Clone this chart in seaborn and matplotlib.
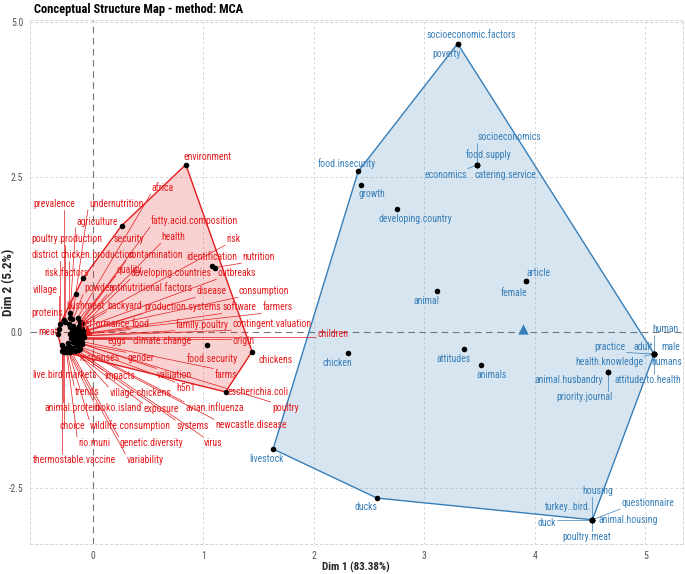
import numpy as np
import pandas as pd
import matplotlib
matplotlib.use("Agg")
import matplotlib.pyplot as plt
import seaborn as sns

# cluster 1 (red) - word, Dim 1, Dim 2
red_words = ["environment", "prevalence", "undernutrition", "africa", "agriculture",
             "fatty.acid.composition", "poultry.production", "security", "health", "risk",
             "district", "chicken.production", "contamination", "identification", "nutrition",
             "risk.factors", "quality", "developing.countries", "outbreaks", "village",
             "powder", "antinutritional.factors", "disease", "consumption", "bushmeat",
             "backyard", "production.systems", "software", "farmers", "proteins",
             "performance", "food", "family.poultry", "contingent.valuation", "meat",
             "children", "eggs", "climate.change", "origin", "food.security",
             "chickens", "responses", "gender", "valuation", "farms",
             "live.bird.markets", "impacts", "h5n1", "escherichia.coli", "trends",
             "village.chickens", "poultry", "animal.protein", "bioko.island", "exposure",
             "avian.influenza", "choice", "wildlife.consumption", "systems", "newcastle.disease",
             "rio.muni", "genetic.diversity", "virus", "thermostable.vaccine", "variability"]
red_dim1 = [0.84, -0.26, -0.19, -0.14, -0.21,
            -0.12, -0.25, 0.26, -0.13, -0.10,
            -0.30, -0.22, -0.15, 1.08, 1.10,
            -0.09, -0.18, -0.14, -0.10, -0.31,
            -0.21, -0.16, -0.12, -0.09, -0.15,
            -0.19, -0.14, -0.11, -0.09, -0.21,
            -0.21, -0.17, -0.13, -0.10, -0.32,
            -0.08, -0.20, -0.15, -0.11, 1.03,
            1.44, -0.23, -0.18, -0.14, -0.10,
            -0.28, -0.21, -0.15, 1.20, -0.24,
            -0.18, -0.10, -0.27, -0.23, -0.19,
            -0.13, -0.26, -0.22, -0.16, -0.12,
            -0.24, -0.20, -0.14, -0.28, -0.21]
red_dim2 = [2.70, 0.19, 0.21, 0.23, 0.23,
            0.16, 0.16, 1.72, 0.10, 0.15,
            0.13, 0.13, 0.06, 1.06, 1.04,
            0.87, 0.10, 0.03, 0.06, 0.06,
            0.08, 0.02, 0.00, 0.02, 0.61,
            0.02, -0.03, -0.03, -0.02, 0.31,
            -0.03, -0.05, -0.06, -0.06, -0.02,
            -0.08, -0.10, -0.10, -0.11, -0.21,
            -0.31, -0.18, -0.16, -0.16, -0.15,
            -0.21, -0.23, -0.21, -0.96, -0.26,
            -0.26, -0.19, -0.29, -0.29, -0.29,
            -0.24, -0.32, -0.31, -0.30, -0.27,
            -0.31, -0.30, -0.29, -0.30, -0.32]

# cluster 2 (blue)
blue_words = ["socioeconomic.factors", "poverty", "food.insecurity", "growth", "socioeconomics",
              "food.supply", "economics", "catering.service", "developing.country", "animal",
              "article", "female", "attitudes", "animals", "chicken",
              "human", "practice", "adult", "male", "health.knowledge",
              "humans", "attitude.to.health", "animal.husbandry", "priority.journal", "livestock",
              "ducks", "housing", "turkey..bird.", "questionnaire", "duck",
              "animal.housing", "poultry.meat"]
blue_dim1 = [3.30, 3.30, 2.40, 2.43, 3.48,
             3.48, 3.48, 3.48, 2.75, 3.11,
             3.92, 3.92, 3.36, 3.51, 2.31,
             5.08, 5.08, 5.08, 5.08, 5.08,
             5.08, 5.08, 4.66, 4.66, 1.63,
             2.57, 4.52, 4.52, 4.52, 4.52,
             4.52, 4.52]
blue_dim2 = [4.65, 4.65, 2.59, 2.38, 2.70,
             2.70, 2.70, 2.70, 1.98, 0.66,
             0.82, 0.82, -0.27, -0.53, -0.34,
             -0.35, -0.35, -0.35, -0.35, -0.35,
             -0.35, -0.35, -0.64, -0.64, -1.88,
             -2.67, -3.02, -3.02, -3.02, -3.02,
             -3.02, -3.02]

# where the repelled labels ended up
label_pos = {
    "environment": (1.04, 2.83), "prevalence": (-0.35, 2.07), "undernutrition": (0.21, 2.07),
    "africa": (0.63, 2.32), "agriculture": (0.04, 1.78), "fatty.acid.composition": (0.92, 1.80),
    "poultry.production": (-0.24, 1.51), "security": (0.32, 1.51), "health": (0.73, 1.53),
    "risk": (1.27, 1.50), "district": (-0.43, 1.24), "chicken.production": (0.04, 1.24),
    "contamination": (0.56, 1.25), "identification": (1.08, 1.22), "nutrition": (1.50, 1.21),
    "risk.factors": (-0.24, 0.95), "quality": (0.33, 1.00), "developing.countries": (0.71, 0.95),
    "outbreaks": (1.30, 0.95), "village": (-0.43, 0.68), "powder": (0.05, 0.71),
    "antinutritional.factors": (0.52, 0.71), "disease": (1.07, 0.66), "consumption": (1.55, 0.66),
    "bushmeat": (-0.07, 0.43), "backyard": (0.29, 0.43), "production.systems": (0.81, 0.40),
    "software": (1.33, 0.40), "farmers": (1.67, 0.40), "proteins": (-0.41, 0.31),
    "performance": (0.11, 0.14), "food": (0.43, 0.14), "family.poultry": (0.99, 0.13),
    "contingent.valuation": (1.62, 0.13), "meat": (-0.41, 0.00), "children": (2.17, -0.02),
    "eggs": (0.22, -0.14), "climate.change": (0.63, -0.14), "origin": (1.36, -0.14),
    "food.security": (1.08, -0.42), "chickens": (1.65, -0.45), "responses": (0.06, -0.42),
    "gender": (0.43, -0.42), "valuation": (0.74, -0.68), "farms": (1.20, -0.68),
    "live.bird.markets": (-0.26, -0.69), "impacts": (0.24, -0.71), "h5n1": (0.84, -0.90),
    "escherichia.coli": (1.49, -0.96), "trends": (-0.05, -0.96), "village.chickens": (0.43, -0.98),
    "poultry": (1.74, -1.22), "animal.protein": (-0.19, -1.22), "bioko.island": (0.23, -1.22),
    "exposure": (0.62, -1.24), "avian.influenza": (1.10, -1.22), "choice": (-0.19, -1.51),
    "wildlife.consumption": (0.34, -1.51), "systems": (0.90, -1.51), "newcastle.disease": (1.43, -1.50),
    "rio.muni": (0.01, -1.78), "genetic.diversity": (0.53, -1.78), "virus": (1.09, -1.78),
    "thermostable.vaccine": (-0.17, -2.06), "variability": (0.47, -2.06),
    "socioeconomic.factors": (3.42, 4.79), "poverty": (3.20, 4.49), "food.insecurity": (2.30, 2.72),
    "growth": (2.52, 2.23), "socioeconomics": (3.77, 3.14), "food.supply": (3.58, 2.86),
    "economics": (3.19, 2.54), "catering.service": (3.73, 2.54), "developing.country": (2.92, 1.83),
    "animal": (3.02, 0.51), "article": (4.03, 0.95), "female": (3.81, 0.63),
    "attitudes": (3.26, -0.43), "animals": (3.61, -0.69), "chicken": (2.21, -0.50),
    "human": (5.18, 0.06), "practice": (4.68, -0.23), "adult": (4.98, -0.23),
    "male": (5.23, -0.23), "health.knowledge": (4.67, -0.48), "humans": (5.19, -0.48),
    "attitude.to.health": (5.02, -0.77), "animal.husbandry": (4.31, -0.77),
    "priority.journal": (4.45, -1.05), "livestock": (1.57, -2.04), "ducks": (2.47, -2.81),
    "housing": (4.57, -2.56), "turkey..bird.": (4.30, -2.81), "questionnaire": (5.02, -2.75),
    "duck": (4.11, -3.07), "animal.housing": (4.84, -3.02), "poultry.meat": (4.47, -3.30),
}

RED = "#E41A1C"
BLUE = "#377EB8"
NARROW = ["Noto Sans Condensed", "Roboto Condensed", "Open Sans Condensed",
          "Liberation Sans Narrow", "Liberation Sans"]

df = pd.concat([
    pd.DataFrame({"word": red_words, "Dim1": red_dim1, "Dim2": red_dim2, "cluster": 1}),
    pd.DataFrame({"word": blue_words, "Dim1": blue_dim1, "Dim2": blue_dim2, "cluster": 2}),
], ignore_index=True)
colors = {1: RED, 2: BLUE}


def hull(points):
    pts = sorted(set(points))
    def cross(o, a, b):
        return (a[0] - o[0]) * (b[1] - o[1]) - (a[1] - o[1]) * (b[0] - o[0])
    lower, upper = [], []
    for p in pts:
        while len(lower) >= 2 and cross(lower[-2], lower[-1], p) <= 0:
            lower.pop()
        lower.append(p)
    for p in reversed(pts):
        while len(upper) >= 2 and cross(upper[-2], upper[-1], p) <= 0:
            upper.pop()
        upper.append(p)
    return lower[:-1] + upper[:-1]


sns.set_theme(style="white")
plt.rcParams["font.family"] = NARROW

fig = plt.figure(figsize=(6.85, 5.74), dpi=100)
ax = fig.add_axes([30 / 685, 30 / 574, 653 / 685, 524 / 574])

# grid + zero lines
for v in [1, 2, 3, 4, 5]:
    ax.axvline(v, color="#d0d0d0", lw=0.6, ls=(0, (3, 3)), zorder=0)
for v in [-2.5, 2.5, 5.0]:
    ax.axhline(v, color="#d0d0d0", lw=0.6, ls=(0, (3, 3)), zorder=0)
ax.axvline(0, color="#777777", lw=0.8, ls=(0, (6, 4)), zorder=0.5)
ax.axhline(0, color="#777777", lw=0.8, ls=(0, (6, 4)), zorder=0.5)

# cluster hulls
for cl, sub in df.groupby("cluster"):
    h = hull(list(zip(sub["Dim1"], sub["Dim2"])))
    hx = [p[0] for p in h] + [h[0][0]]
    hy = [p[1] for p in h] + [h[0][1]]
    ax.fill(hx, hy, color=colors[cl], alpha=0.2, lw=0, zorder=1)
    ax.plot(hx, hy, color=colors[cl], lw=1.0, zorder=2)
    # centroid
    ax.scatter(sub["Dim1"].mean(), sub["Dim2"].mean(), marker="^", s=55,
               color=colors[cl], zorder=2.8, linewidths=0)

sns.scatterplot(data=df, x="Dim1", y="Dim2", color="black", s=16, linewidth=0,
                ax=ax, zorder=3, legend=False)

texts = []
for _, r in df.iterrows():
    lx, ly = label_pos[r["word"]]
    t = ax.text(lx, ly, r["word"], color=colors[r["cluster"]], fontsize=7.0,
                ha="center", va="center", zorder=4)
    texts.append((t, r["Dim1"], r["Dim2"], colors[r["cluster"]]))

ax.set_xlim(-0.57, 5.34)
ax.set_ylim(-3.41, 5.03)
ax.set_xticks([0, 1, 2, 3, 4, 5])
ax.set_xticklabels(["0", "1", "2", "3", "4", "5"])
ax.set_yticks([-2.5, 0.0, 2.5, 5.0])
ax.set_yticklabels(["-2.5", "0.0", "2.5", "5.0"])
ax.tick_params(axis="both", length=0, labelsize=7, labelcolor="#555555", pad=5)
ax.set_xlabel("")
ax.set_ylabel("")
for s in ax.spines.values():
    s.set_linestyle((0, (3, 3)))
    s.set_color("#d0d0d0")
    s.set_linewidth(0.6)

# leader segments, ggrepel style (point -> nearest edge of label box)
fig.canvas.draw()
renderer = fig.canvas.get_renderer()
inv = ax.transData.inverted()
for t, px, py, col in texts:
    bb = t.get_window_extent(renderer)
    x0, y0 = ax.transData.transform((px, py))
    nx = min(max(x0, bb.x0 - 1), bb.x1 + 1)
    ny = min(max(y0, bb.y0 - 1), bb.y1 + 1)
    if np.hypot(nx - x0, ny - y0) > 9:
        (a, b), (c, d) = inv.transform([(x0, y0), (nx, ny)])
        ax.plot([a, c], [b, d], color=col, lw=0.5, zorder=2.5)

fig.text(34 / 685, 1 - 9 / 574, "Conceptual Structure Map - method: MCA",
         fontsize=9, fontweight="bold", ha="left", va="center", color="black")
fig.text(356 / 685, 1 - 567 / 574, "Dim 1 (83.38%)", fontsize=8, fontweight="bold",
         ha="center", va="center")
fig.text(9 / 685, 1 - 282 / 574, "Dim 2 (5.2%)", fontsize=9.5, fontweight="bold",
         ha="center", va="center", rotation=90)

fig.savefig("out.png", dpi=100)
